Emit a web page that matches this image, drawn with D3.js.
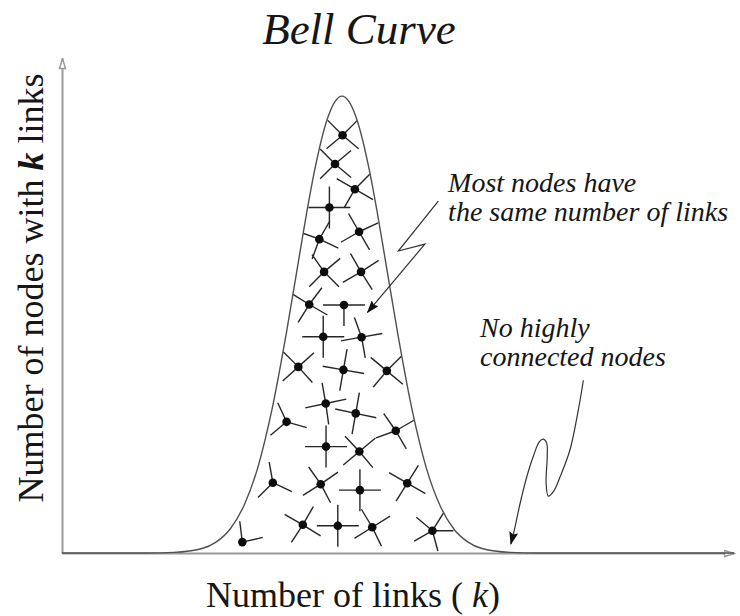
<!DOCTYPE html>
<html>
<head>
<meta charset="utf-8">
<script src="https://cdn.jsdelivr.net/npm/d3@7"></script>
<style>
  body { margin: 0; background: #fff; }
</style>
</head>
<body>
<div id="chart"></div>
<script>
// DATA
// bell curve: number of links k -> number of nodes with k links
let CURVE_K = [0, 3, 4, 5, 5.5, 6, 6.5, 7, 7.25, 7.5, 8, 8.5, 8.75, 9, 9.5, 9.75, 10,
               10.25, 10.5, 11, 11.25, 11.5, 12, 12.5, 12.75, 13, 13.5, 14, 14.5, 15, 16, 17, 24]
let CURVE_COUNT = [0, 0, 0.12, 0.9, 2.2, 4.8, 9.6, 17.4, 22.8, 29.0, 44.0, 60.8, 69.1, 76.7, 88.1, 91.2, 92.3,
                   91.2, 88.1, 76.7, 69.1, 60.8, 44.0, 29.0, 22.8, 17.4, 9.6, 4.8, 2.2, 0.9, 0.12, 0, 0]

// the little network drawn inside the curve
let NODE_K = [10.02, 9.75, 10.46, 9.55, 10.61, 9.19, 9.36, 10.68, 8.83, 10.07,
              9.33, 10.70, 8.44, 10.05, 11.60, 9.42, 10.49, 8.02, 11.92, 9.43,
              10.62, 7.53, 9.24, 10.64, 12.33, 8.60, 9.85, 11.08, 13.23, 6.44]
let NODE_COUNT = [84.4, 78.6, 73.5, 69.8, 64.9, 63.4, 56.8, 56.8, 50.2, 50.1,
                  43.7, 43.6, 37.6, 37.0, 36.8, 30.2, 28.2, 26.5, 24.7, 21.5,
                  20.5, 14.2, 13.9, 12.7, 14.1, 5.7, 5.5, 5.2, 4.5, 2.2]
// direction of each link leaving a node, degrees, 0 = right, 90 = up
let NODE_LINKS = [
    [135, 45, -40, -140], [135, 40, -40, -135], [150, 45, -30, -120], [90, 180, 0, -90],
    [120, 25, -60, -150], [160, -25, -110, 60], [125, 40, -45, -135], [120, 33, -58, -150],
    [53, 148, -122, -30], [180, 0, -90], [90, 180, 0, -90], [110, 10, 190, -80],
    [135, 42, -138, -48], [80, 170, -10, -100], [140, 45, -40, -130], [100, 12, 192, -82],
    [80, 168, -12, -100], [115, -16, -140], [125, 30, -160, -60], [90, 180, 0, -90],
    [133, 40, -140, -50], [100, -135, -25], [125, 35, -148, -62], [90, 180, 0, -90],
    [150, 58, -30, -122], [150, 60, -123, -32], [90, 180, 0, -90], [121, 32, -148, -64],
    [140, 58, 0, -150, -75], [97, 13]
]

// annotations, in chart units (k, count)
let NOTE1_LINES = ["Most nodes have", "the same number of links"]
let NOTE1_AT = [13.79, 72.9]
let NOTE1_ARROW = [[13.44, 71.1], [12.01, 61.0], [12.96, 62.4], [10.91, 48.6]]
let NOTE2_LINES = ["No highly", "connected nodes"]
let NOTE2_AT = [14.93, 43.6]
let NOTE2_ARROW = [[18.62, 34.9], [18.44, 28.9], [18.14, 20.8], [17.79, 15.4], [17.55, 12.4],
                   [17.37, 11.5], [17.29, 14.1], [17.33, 19.5], [17.31, 22.2], [17.19, 23.0],
                   [17.05, 22.5], [16.83, 19.5], [16.60, 15.4], [16.36, 10.0], [16.18, 5.3],
                   [16.03, 1.8]]

let TITLE = "Bell Curve"


// MAIN SCRIPT
let width = 740, height = 616
let LINK_LEN = 21
let SERIF = "'Liberation Serif', 'DejaVu Serif', serif"

let svg = d3.select("#chart")
    .append("svg")
    .attr("width", width)
    .attr("height", height)
    .style("font-family", SERIF)

let x = d3.scaleLinear().domain([0, 24]).range([62, 734])
let y = d3.scaleLinear().domain([0, 100]).range([553, 58])

let defs = svg.append("defs")
defs.append("marker")
    .attr("id", "axisArrow")
    .attr("viewBox", "0 0 12 10")
    .attr("refX", 11).attr("refY", 5)
    .attr("markerWidth", 12).attr("markerHeight", 10)
    .attr("markerUnits", "userSpaceOnUse")
    .attr("orient", "auto")
    .append("path")
    .attr("d", "M1,2 L11,5 L1,8 Z")
    .style("fill", "#fff")
    .style("stroke", "#9a9a9a")
    .style("stroke-width", 1.5)
defs.append("marker")
    .attr("id", "noteArrow")
    .attr("viewBox", "0 0 13 9")
    .attr("refX", 12).attr("refY", 4.5)
    .attr("markerWidth", 13).attr("markerHeight", 9)
    .attr("markerUnits", "userSpaceOnUse")
    .attr("orient", "auto")
    .append("path")
    .attr("d", "M0,0 L13,4.5 L0,9 L2,4.5 Z")
    .style("fill", "#111")

let curveData = CURVE_K.map(function (k, i) { return { k: k, count: CURVE_COUNT[i] } })

// clip the links to the area under the bell
let area = d3.area()
    .x(function (d) { return x(d.k) })
    .y0(y(0))
    .y1(function (d) { return y(d.count) })
    .curve(d3.curveMonotoneX)
defs.append("clipPath")
    .attr("id", "bellClip")
    .append("path")
    .attr("d", area(curveData))

// axes, no ticks
let xAxis = svg.append("g")
    .attr("transform", "translate(0," + y(0) + ")")
    .call(d3.axisBottom(x).tickValues([]).tickSizeOuter(0))
let yAxis = svg.append("g")
    .attr("transform", "translate(" + x(0) + ",0)")
    .call(d3.axisLeft(y).tickValues([]).tickSizeOuter(0))
svg.selectAll(".domain")
    .style("stroke", "#9a9a9a")
    .style("stroke-width", 2)
    .attr("marker-end", "url(#axisArrow)")

// links then nodes
let nodeData = NODE_K.map(function (k, i) {
    return { k: k, count: NODE_COUNT[i], links: NODE_LINKS[i] }
})
let linkData = []
nodeData.forEach(function (d) {
    d.links.forEach(function (a) { linkData.push({ node: d, angle: a * Math.PI / 180 }) })
})

svg.append("g")
    .attr("clip-path", "url(#bellClip)")
    .selectAll("line")
    .data(linkData)
    .enter()
    .append("line")
    .attr("x1", function (d) { return x(d.node.k) })
    .attr("y1", function (d) { return y(d.node.count) })
    .attr("x2", function (d) { return x(d.node.k) + LINK_LEN * Math.cos(d.angle) })
    .attr("y2", function (d) { return y(d.node.count) - LINK_LEN * Math.sin(d.angle) })
    .style("stroke", "#262626")
    .style("stroke-width", 1.4)

svg.append("g")
    .selectAll("circle")
    .data(nodeData)
    .enter()
    .append("circle")
    .attr("cx", function (d) { return x(d.k) })
    .attr("cy", function (d) { return y(d.count) })
    .attr("r", 4.3)
    .style("fill", "#0d0d0d")

// the bell itself
let line = d3.line()
    .x(function (d) { return x(d.k) })
    .y(function (d) { return y(d.count) })
    .curve(d3.curveMonotoneX)
svg.append("path")
    .attr("d", line(curveData))
    .style("fill", "none")
    .style("stroke", "#505050")
    .style("stroke-width", 1.4)

// annotations
let noteLine = d3.line()
    .x(function (d) { return x(d[0]) })
    .y(function (d) { return y(d[1]) })
svg.append("path")
    .attr("d", noteLine.curve(d3.curveLinear)(NOTE1_ARROW))
    .style("fill", "none")
    .style("stroke", "#333")
    .style("stroke-width", 1.2)
    .attr("marker-end", "url(#noteArrow)")
svg.append("path")
    .attr("d", noteLine.curve(d3.curveCatmullRom.alpha(0.5))(NOTE2_ARROW))
    .style("fill", "none")
    .style("stroke", "#333")
    .style("stroke-width", 1.2)
    .attr("marker-end", "url(#noteArrow)")

function addNote(lines, at) {
    let t = svg.append("text")
        .attr("x", x(at[0]))
        .attr("y", y(at[1]))
        .style("font-family", SERIF)
        .style("font-style", "italic")
        .style("font-size", "28px")
        .style("fill", "#161616")
    t.selectAll("tspan")
        .data(lines)
        .enter()
        .append("tspan")
        .attr("x", x(at[0]))
        .attr("dy", function (d, i) { return i ? 29 : 0 })
        .text(function (d) { return d })
}
addNote(NOTE1_LINES, NOTE1_AT)
addNote(NOTE2_LINES, NOTE2_AT)

// title and axis labels
svg.append("text")
    .attr("x", 359).attr("y", 44)
    .attr("text-anchor", "middle")
    .style("font-family", SERIF)
    .style("font-style", "italic")
    .style("font-size", "45px")
    .style("fill", "#161616")
    .text(TITLE)

let xLabel = svg.append("text")
    .attr("x", 353).attr("y", 607)
    .attr("text-anchor", "middle")
    .style("font-family", SERIF)
    .style("font-size", "36px")
    .style("fill", "#161616")
xLabel.append("tspan").text("Number of links ( ")
xLabel.append("tspan").style("font-style", "italic").text("k")
xLabel.append("tspan").text(")")

let yLabel = svg.append("text")
    .attr("transform", "translate(43,288) rotate(-90)")
    .attr("text-anchor", "middle")
    .style("font-family", SERIF)
    .style("font-size", "36px")
    .style("fill", "#161616")
yLabel.append("tspan").text("Number of nodes with ")
yLabel.append("tspan").style("font-style", "italic").style("font-weight", "bold").text("k")
yLabel.append("tspan").text(" links")
</script>
</body>
</html>
